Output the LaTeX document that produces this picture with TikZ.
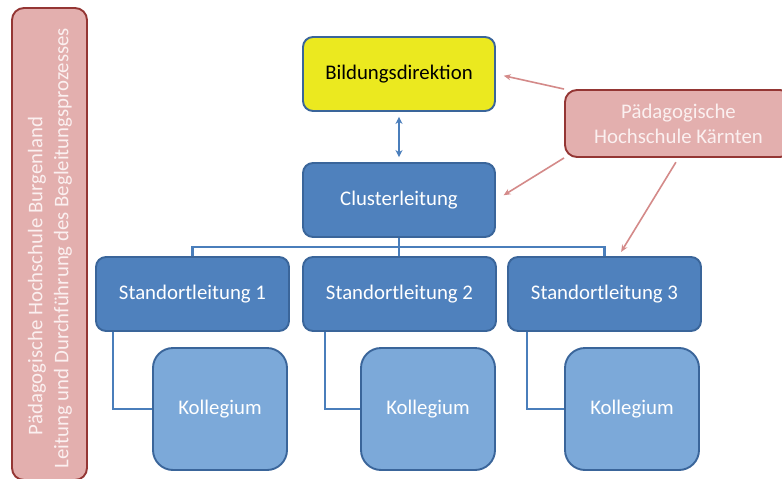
\documentclass[tikz,border=0pt]{standalone}
\usepackage{fontspec}
\setmainfont{Carlito}
\usetikzlibrary{arrows.meta}
\definecolor{bluefill}{HTML}{4F81BD}
\definecolor{blueline}{HTML}{3A659A}
\definecolor{lightfill}{HTML}{7CA9D9}
\definecolor{yellowfill}{HTML}{EBE91F}
\definecolor{pinkfill}{HTML}{E3AFAE}
\definecolor{pinkline}{HTML}{943634}
\definecolor{pinkarrow}{HTML}{D48A89}
\definecolor{conn}{HTML}{4A7EBB}
\definecolor{pinktext}{HTML}{FBF0F0}
\begin{document}
\begin{tikzpicture}[x=1pt,y=-1pt,
  font=\fontsize{20.8}{25}\selectfont,
  box/.style={draw=blueline, line width=1.9pt, rounded corners=10pt, fill=bluefill,
    text=white, inner sep=0pt, minimum width=193pt, minimum height=74pt},
  yellowbox/.style={box, fill=yellowfill, text=black},
  kolbox/.style={draw=blueline, line width=1.9pt, rounded corners=20pt, fill=lightfill,
    text=white, inner sep=0pt, minimum width=134pt, minimum height=122pt},
  pinkbox/.style={draw=pinkline, line width=1.9pt, rounded corners=12pt, fill=pinkfill,
    text=pinktext, inner sep=0pt, align=center},
  conline/.style={draw=conn, line width=2.2pt},
  parrow/.style={draw=pinkarrow, line width=1.6pt, -{Stealth[length=7pt,width=6pt]}},
  barrow/.style={draw=conn, line width=1.6pt, {Stealth[length=7pt,width=7pt]}-{Stealth[length=7pt,width=7pt]}}
]
\useasboundingbox (0,0) rectangle (782,479);
\fill[white] (0,0) rectangle (782,479);
\clip (0,0) rectangle (782,479);

% left pink box
\node[pinkbox, minimum width=75pt, minimum height=472pt] (left) at (49.5,244) {};
\node[text=pinktext, rotate=90, inner sep=0pt] (lefta) at (37,276) {Pädagogische Hochschule Burgenland};
\node[text=pinktext, rotate=90, inner sep=0pt] (leftb) at (63,248) {Leitung und Durchführung des Begleitungsprozesses};

% top
\node[yellowbox, minimum width=192pt] (bild) at (399,74) {Bildungsdirektion};
\node[box, minimum width=192pt] (clus) at (399,200) {Clusterleitung};

% PH Kaernten
\node[pinkbox, minimum width=227pt, minimum height=67pt] (pk) at (678.5,123.5) {Pädagogische\\Hochschule Kärnten};

% Standorte
\node[box] (std1) at (192.5,294) {Standortleitung 1};
\node[box] (std2) at (399.5,294) {Standortleitung 2};
\node[box] (std3) at (604.5,294) {Standortleitung 3};

% Kollegien
\node[kolbox] (kol1) at (220,409) {Kollegium};
\node[kolbox] (kol2) at (428,409) {Kollegium};
\node[kolbox] (kol3) at (632,409) {Kollegium};

% tree connectors
\coordinate (bus) at (399,247);
\draw[conline] (clus.south) -- (bus);
\draw[conline] (std1.north) |- (bus) -| (std3.north);
\draw[conline] (bus) -- (bus |- std2.north);
\draw[conline] ([xshift=18pt]std1.south west) |- (kol1.west);
\draw[conline] ([xshift=23pt]std2.south west) |- (kol2.west);
\draw[conline] ([xshift=20pt]std3.south west) |- (kol3.west);

% double arrow
\draw[barrow, shorten <=5pt, shorten >=5pt] (bild.south) -- (clus.north);

% pink arrows
\draw[parrow, shorten >=8pt] (pk.north west) -- (bild.east);
\draw[parrow, shorten >=9pt] (pk.south west) -- (clus.east);
\coordinate (t3) at (618,257);
\draw[parrow, shorten <=5pt, shorten >=6pt] (pk.south) -- (t3);
\end{tikzpicture}
\end{document}
